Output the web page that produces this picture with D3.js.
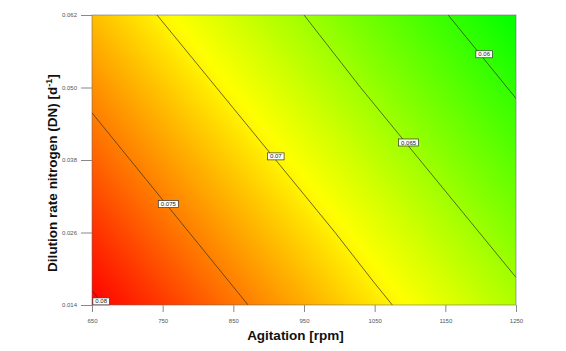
<!DOCTYPE html>
<html><head><meta charset="utf-8">
<script src="https://cdn.jsdelivr.net/npm/d3@7"></script>
<style>body{margin:0;background:#fff}svg{display:block}</style>
</head><body><svg id="c" width="566" height="351"></svg>
<script>
// ---- data ----
const agitation = [650, 750, 850, 950, 1050, 1150, 1250];
const dilution = [0.014, 0.026, 0.038, 0.050, 0.062];
const xTickLabels = ["650", "750", "850", "950", "1050", "1150", "1250"];
const yTickLabels = ["0.014", "0.026", "0.038", "0.050", "0.062"];
// response values: rows = dilution (0.014 -> 0.062), columns = agitation (650 -> 1250)
const row014 = [0.0804, 0.0780, 0.0755, 0.0731, 0.0706, 0.0682, 0.0658];
const row026 = [0.0784, 0.0759, 0.0735, 0.0711, 0.0686, 0.0662, 0.0637];
const row038 = [0.0763, 0.0739, 0.0715, 0.0690, 0.0666, 0.0641, 0.0617];
const row050 = [0.0743, 0.0719, 0.0694, 0.0670, 0.0645, 0.0621, 0.0597];
const row062 = [0.0723, 0.0698, 0.0674, 0.0650, 0.0625, 0.0601, 0.0576];
const contourLevels = [0.06, 0.065, 0.07, 0.075, 0.08];
const contourLabels = ["0.06", "0.065", "0.07", "0.075", "0.08"];
const labelAgitation = [1205, 1098, 910, 758, 663];
const labelDilution = [0.0555, 0.0409, 0.0386, 0.0307, 0.0146];
const colorDomain = [0.0576, 0.0695, 0.0804];
const colorRange = ["#00ff00", "#ffff00", "#ff0000"];

// ---- chart ----
const svg = d3.select("#c");
const L = 92, R = 516, T = 15, B = 305;
const x = d3.scaleLinear().domain([650, 1250]).range([L, R]);
const y = d3.scaleLinear().domain([0.014, 0.062]).range([B, T]);
const color = d3.scaleLinear().domain(colorDomain).range(colorRange);

const nx = agitation.length, ny = dilution.length;
const rows = [row014, row026, row038, row050, row062];
const values = rows.flat();
const gx = d3.scaleLinear().domain([0.5, nx - 0.5]).range([agitation[0], agitation[nx - 1]]);
const gy = d3.scaleLinear().domain([0.5, ny - 0.5]).range([dilution[0], dilution[ny - 1]]);
const path = d3.geoPath(d3.geoTransform({
  point(px, py) { this.stream.point(x(gx(px)), y(gy(py))); }
}));

svg.append("defs").append("clipPath").attr("id", "clip")
  .append("rect").attr("x", L).attr("y", T).attr("width", R - L).attr("height", B - T);

const vmin = d3.min(values), vmax = d3.max(values);
const nb = 240;
const step = (vmax - vmin) / nb;
const fillThresholds = d3.range(nb).map(i => vmin - 0.0005 * (i === 0) + i * step);
const bands = d3.contours().size([nx, ny]).thresholds(fillThresholds)(values);

const g = svg.append("g").attr("clip-path", "url(#clip)");
g.selectAll("path.band").data(bands).join("path")
  .attr("class", "band")
  .attr("d", path)
  .attr("fill", (d, i) => color(Math.min(vmax, Math.max(vmin, vmin + (i + 0.5) * step))))
  .attr("stroke", "none");

const lines = d3.contours().size([nx, ny]).thresholds(contourLevels)(values);
g.selectAll("path.iso").data(lines).join("path")
  .attr("class", "iso")
  .attr("d", path)
  .attr("fill", "none")
  .attr("stroke", "#2a2a2a")
  .attr("stroke-opacity", 0.85)
  .attr("stroke-width", 0.8);

// frame
svg.append("rect").attr("x", L).attr("y", T).attr("width", R - L).attr("height", B - T)
  .attr("fill", "none").attr("stroke", "#666").attr("stroke-opacity", 0.55).attr("stroke-width", 1);

// contour labels
const lab = svg.append("g").attr("font-family", "Liberation Sans, Arial, sans-serif").attr("font-size", 6);
contourLabels.forEach((t, i) => {
  const cx = x(labelAgitation[i]), cy = y(labelDilution[i]);
  const gg = lab.append("g");
  const r = gg.append("rect");
  const tx = gg.append("text").attr("x", cx).attr("y", cy).attr("text-anchor", "middle")
    .attr("dy", "0.35em").attr("fill", "#222").text(t);
  const w = tx.node().getComputedTextLength() + 5;
  r.attr("x", cx - w / 2).attr("y", cy - 3.5).attr("width", w).attr("height", 7)
    .attr("fill", "#fff").attr("stroke", "#333").attr("stroke-width", 0.7);
});

// axes
const xAxis = d3.axisBottom(x).tickValues(agitation).tickFormat((d, i) => xTickLabels[i])
  .tickSize(7).tickPadding(7).tickSizeOuter(0);
const yAxis = d3.axisLeft(y).tickValues(dilution).tickFormat((d, i) => yTickLabels[i])
  .tickSize(11).tickPadding(4).tickSizeOuter(0);
const ax = svg.append("g").attr("transform", `translate(0,${B})`).call(xAxis);
const ay = svg.append("g").attr("transform", `translate(${L},0)`).call(yAxis);
[ax, ay].forEach(a => {
  a.select(".domain").remove();
  a.selectAll("line").attr("stroke", "#888");
  a.selectAll("text").attr("fill", "#555").attr("font-size", 6)
    .attr("font-family", "Liberation Sans, Arial, sans-serif");
});

// titles
svg.append("text").attr("x", 295.5).attr("y", 339.5).attr("text-anchor", "middle")
  .attr("font-family", "Liberation Sans, Arial, sans-serif").attr("font-weight", "bold")
  .attr("font-size", 13.5).attr("fill", "#111").text("Agitation [rpm]");

const yt = svg.append("text").attr("transform", "translate(57,173) rotate(-90)")
  .attr("text-anchor", "middle")
  .attr("font-family", "Liberation Sans, Arial, sans-serif").attr("font-weight", "bold")
  .attr("font-size", 13.5).attr("fill", "#111");
yt.append("tspan").text("Dilution rate nitrogen (DN) [d");
yt.append("tspan").attr("font-size", 9).attr("dy", -5).text("-1");
yt.append("tspan").attr("dy", 5).text("]");
</script>
</body></html>
